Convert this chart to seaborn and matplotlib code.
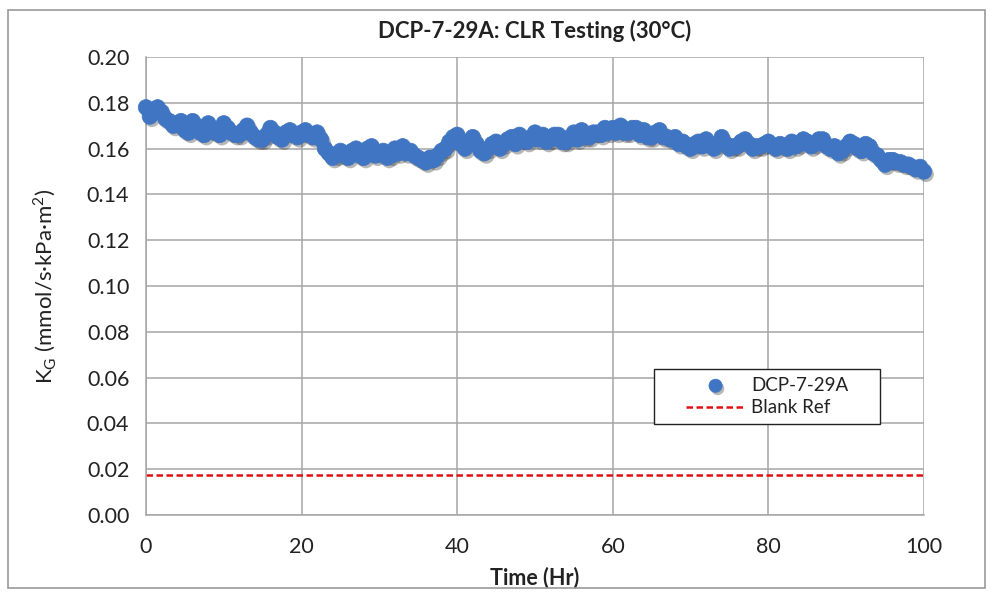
import numpy as np
import pandas as pd
import matplotlib
matplotlib.use("Agg")
import matplotlib.pyplot as plt
import matplotlib.patheffects as pe
import seaborn as sns
from matplotlib.patches import Rectangle
from matplotlib.ticker import FormatStrFormatter

# ---- data ----
time_hr = [i * 0.5 for i in range(201)]
kg_values = [
    .178, .174, .177, .178, .176, .173, .172, .170, .171, .172,
    .168, .167, .172, .170, .167, .166, .171, .168, .167, .166,
    .171, .169, .167, .166, .166, .168, .170, .167, .165, .164,
    .164, .166, .169, .167, .165, .164, .167, .168, .166, .165,
    .167, .168, .166, .165, .167, .164, .160, .158, .156, .157,
    .159, .157, .156, .159, .160, .157, .156, .160, .161, .157,
    .158, .159, .156, .157, .160, .158, .161, .158, .159, .157,
    .156, .155, .154, .156, .155, .157, .159, .160, .163, .165,
    .166, .162, .160, .163, .165, .162, .159, .158, .160, .162,
    .163, .160, .162, .164, .165, .162, .166, .164, .163, .165,
    .167, .164, .166, .163, .164, .166, .166, .163, .163, .165,
    .167, .164, .168, .165, .165, .167, .167, .166, .169, .167,
    .169, .167, .170, .167, .167, .169, .169, .166, .168, .165,
    .165, .167, .168, .165, .165, .164, .165, .162, .163, .161,
    .160, .162, .163, .161, .164, .162, .160, .162, .165, .162,
    .160, .161, .161, .163, .164, .162, .160, .161, .161, .162,
    .163, .161, .160, .162, .161, .160, .163, .161, .162, .164,
    .163, .161, .162, .164, .164, .161, .160, .161, .158, .159,
    .161, .163, .162, .160, .159, .162, .161, .158, .157, .155,
    .153, .155, .155, .154, .154, .153, .153, .152, .151, .152,
    .150,
]
blank_x = [0, 100]
blank_y = [0.0175, 0.0175]

series_name = "DCP-7-29A"
blank_name = "Blank Ref"
title = "DCP-7-29A: CLR Testing (30\u00b0C)"
xlabel = "Time (Hr)"
ylabel = "K$_\\mathregular{G}$ (mmol/s\u00b7kPa\u00b7m$^\\mathregular{2}$)"
xticks = [0, 20, 40, 60, 80, 100]
yticks = [0.00, 0.02, 0.04, 0.06, 0.08, 0.10, 0.12, 0.14, 0.16, 0.18, 0.20]

df = pd.DataFrame({"t": time_hr, "kg": kg_values})
df_blank = pd.DataFrame({"t": blank_x, "kg": blank_y})

sns.set_theme(style="white")
plt.rcParams["font.family"] = ["Lato", "DejaVu Sans"]

fig = plt.figure(figsize=(9.93, 5.94), dpi=100)
ax = fig.add_axes([146 / 993, 1 - 515 / 594, (924 - 146) / 993, (515 - 57) / 594])

grid_c = "#a6a6a6"
ax.set_axisbelow(True)
ax.grid(True, color=grid_c, lw=1.1)

blue = "#3f75c2"
sns.scatterplot(data=df, x="t", y="kg", ax=ax, s=125, color=blue,
                edgecolor=blue, linewidth=0.5, label=series_name, zorder=3,
                clip_on=False)
coll = ax.collections[-1]
coll.set_path_effects([pe.SimplePatchShadow(offset=(1.5, -2), alpha=0.35,
                                            shadow_rgbFace="#333333"),
                       pe.Normal()])
sns.lineplot(data=df_blank, x="t", y="kg", ax=ax, color="#e01010",
             lw=1.8, label=blank_name, zorder=2)
ax.lines[-1].set_linestyle((0, (2.6, 1.4)))

ax.set_xlim(0, 100)
ax.set_ylim(0, 0.20)
ax.set_xticks(xticks)
ax.set_yticks(yticks)
ax.yaxis.set_major_formatter(FormatStrFormatter("%.2f"))
ax.tick_params(axis="both", which="major", labelsize=15.5, colors="#222222",
               length=6, width=1.1, direction="out", color=grid_c, pad=6)
ax.tick_params(axis="x", pad=10)
for side in ["top", "right"]:
    ax.spines[side].set_visible(False)
for side in ["left", "bottom"]:
    ax.spines[side].set_color(grid_c)
    ax.spines[side].set_linewidth(1.1)

ax.set_xlabel(xlabel, fontsize=15.5, fontweight="bold", color="#222222", labelpad=7)
ax.set_ylabel(ylabel, fontsize=16, color="#222222", labelpad=20)
ax.set_title(title, fontsize=16, fontweight="bold", color="#222222", pad=14)

# legend frame drawn as a box in axes coordinates, contents centred in it
bx0, bx1 = (654 - 146) / 778, (880 - 146) / 778
by1, by0 = 1 - (369 - 57) / 458, 1 - (424 - 57) / 458
ax.add_patch(Rectangle((bx0, by0), bx1 - bx0, by1 - by0, transform=ax.transAxes,
                       facecolor="white", edgecolor="#222222", lw=1.0, zorder=6))
leg = ax.legend(loc="center", bbox_to_anchor=((bx0 + bx1) / 2, (by0 + by1) / 2),
                fontsize=13.5, frameon=False, borderpad=0.2,
                handlelength=3.2, handletextpad=0.3, labelspacing=0.3,
                borderaxespad=0, markerscale=0.85)
leg.set_zorder(7)
for t in leg.get_texts():
    t.set_color("#222222")

fig.patches.append(Rectangle((8 / 993, 1 - 588 / 594), (985 - 8) / 993, (588 - 10) / 594,
                             transform=fig.transFigure, fill=False,
                             edgecolor="#999999", lw=1.2))

fig.savefig("out.png", dpi=100)
